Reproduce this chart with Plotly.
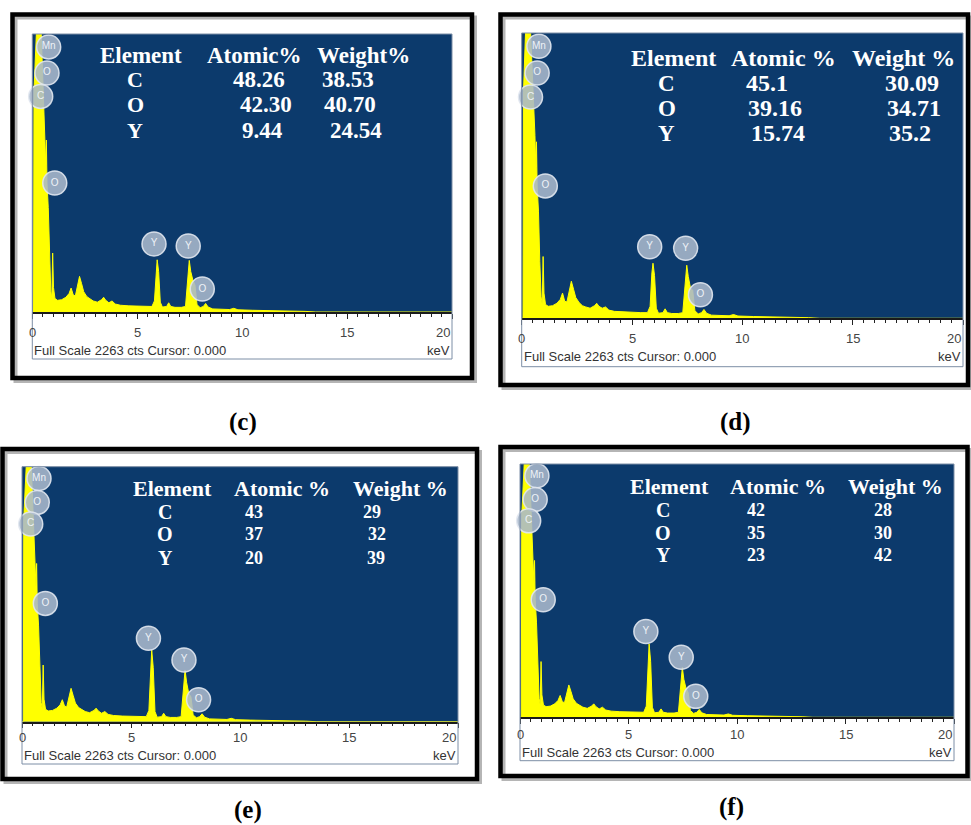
import plotly.graph_objects as go

W, H = 971, 825

# ---------------- data ----------------
energy_kev = [0.00, 0.06, 0.08, 0.12, 0.18, 0.26, 0.30, 0.36, 0.42, 0.48,
              0.54, 0.60, 0.64, 0.67, 0.70, 0.76, 0.82, 0.88, 0.93, 0.97,
              1.01, 1.08, 1.20, 1.40, 1.60, 1.75, 1.85, 1.95, 2.05, 2.15,
              2.25, 2.35, 2.45, 2.60, 2.75, 2.90, 3.10, 3.30, 3.40, 3.50,
              3.65, 3.80, 3.95, 4.20, 4.60, 5.00, 5.40, 5.70, 5.82, 5.90,
              5.95, 6.02, 6.10, 6.20, 6.40, 6.50, 6.60, 6.80, 7.10, 7.30,
              7.40, 7.48, 7.55, 7.65, 7.75, 7.85, 8.00, 8.15, 8.26, 8.38,
              8.60, 9.00, 9.40, 9.60, 9.80, 10.50, 11.50, 12.50, 13.00, 13.50,
              20.00]

counts_c = [0, 0, 1800, 2100, 2500, 2700, 2700, 2450, 2300, 2000,
            1750, 1450, 1200, 1400, 1050, 850, 450, 170, 110, 480,
            200, 110, 95, 100, 120, 150, 195, 140, 130, 210,
            290, 230, 165, 125, 105, 90, 80, 100, 120, 95,
            75, 90, 65, 55, 50, 48, 45, 45, 90, 350,
            425, 330, 80, 40, 45, 75, 45, 38, 38, 45,
            250, 420, 330, 260, 220, 60, 35, 45, 70, 40,
            25, 22, 20, 30, 18, 14, 12, 10, 5, 0,
            0]

counts_d = [0, 0, 1800, 2100, 2500, 2700, 2700, 2450, 2300, 2000,
            1750, 1450, 1200, 1400, 1050, 850, 450, 170, 110, 490,
            200, 110, 95, 100, 120, 150, 200, 135, 130, 215,
            294, 230, 165, 125, 100, 90, 80, 100, 119, 95,
            80, 90, 65, 55, 50, 48, 45, 45, 95, 360,
            437, 340, 80, 40, 45, 75, 45, 38, 38, 45,
            250, 421, 330, 240, 222, 60, 35, 45, 70, 40,
            25, 22, 20, 30, 18, 14, 12, 10, 5, 0,
            0]

counts_e = [0, 0, 1800, 2100, 2500, 2700, 2700, 2450, 2300, 2000,
            1750, 1450, 1200, 1404, 1050, 850, 450, 170, 110, 503,
            200, 110, 95, 100, 120, 150, 195, 140, 130, 210,
            296, 230, 165, 125, 105, 90, 80, 100, 120, 95,
            75, 90, 65, 55, 50, 48, 45, 45, 100, 520,
            636, 480, 90, 40, 45, 75, 45, 38, 38, 45,
            270, 459, 350, 250, 220, 60, 35, 45, 70, 40,
            25, 22, 20, 30, 18, 14, 12, 10, 5, 0,
            0]

counts_f = [0, 0, 1800, 2100, 2500, 2700, 2700, 2450, 2300, 2000,
            1750, 1450, 1200, 1401, 1050, 850, 450, 170, 110, 498,
            200, 110, 95, 100, 120, 150, 195, 140, 130, 210,
            289, 230, 165, 125, 105, 90, 80, 100, 120, 95,
            75, 90, 65, 55, 50, 48, 45, 45, 100, 540,
            656, 500, 90, 40, 45, 75, 45, 38, 38, 45,
            260, 447, 340, 260, 220, 60, 35, 45, 70, 40,
            25, 22, 20, 30, 18, 14, 12, 10, 5, 0,
            0]

full_scale = 2263

peak_labels = ["Mn", "O", "C", "O", "Y", "Y", "O"]
peak_label_kev = [0.78, 0.70, 0.40, 1.07, 5.80, 7.43, 8.10]
peak_label_cts_c = [2158, 1946, 1755, 1050, 554, 537, 187]
peak_label_cts_d = [2158, 1946, 1755, 1050, 568, 556, 187]
peak_label_cts_e = [2158, 1946, 1755, 1050, 740, 548, 195]
peak_label_cts_f = [2158, 1946, 1755, 1050, 766, 537, 187]

elements = ["C", "O", "Y"]
atomic_c = ["48.26", "42.30", "9.44"]
weight_c = ["38.53", "40.70", "24.54"]
atomic_d = ["45.1", "39.16", "15.74"]
weight_d = ["30.09", "34.71", "35.2"]
atomic_e = ["43", "37", "20"]
weight_e = ["29", "32", "39"]
atomic_f = ["42", "35", "23"]
weight_f = ["28", "30", "42"]

headers_c = ["Element", "Atomic%", "Weight%"]
headers_def = ["Element", "Atomic %", "Weight %"]

tick_vals = [0, 5, 10, 15, 20]
tick_labels = ["0", "5", "10", "15", "20"]

# ---------------- layout geometry (pixels) ----------------
panels = [
    dict(name="(c)", counts=counts_c, lab=peak_label_cts_c, headers=headers_c,
         atomic=atomic_c, weight=weight_c,
         frame=(12.5, 14.5, 472, 378), blue=(32.3, 34, 452, 312), strip=359,
         tick_off=20, foot_off=38, caption=(243, 422),
         hy=56, hx=[141, 254.7, 363], ry=[80, 105, 130], ex=135,
         ax=[259, 266, 262], wx=[348, 350, 356], hfs=23, efs=22, vfs=23),
    dict(name="(d)", counts=counts_d, lab=peak_label_cts_d, headers=headers_def,
         atomic=atomic_d, weight=weight_d,
         frame=(500.5, 14.5, 968, 385), blue=(521.7, 33, 963, 318.3), strip=366.7,
         tick_off=20, foot_off=38, caption=(735, 422),
         hy=58.3, hx=[673, 783.3, 903], ry=[83.3, 108.3, 133.3], ex=666.7,
         ax=[766.7, 775, 778], wx=[911.7, 914, 910], hfs=24, efs=23, vfs=24),
    dict(name="(e)", counts=counts_e, lab=peak_label_cts_e, headers=headers_def,
         atomic=atomic_e, weight=weight_e,
         frame=(2.5, 449, 477, 779), blue=(22, 466.7, 458, 721.7), strip=764,
         tick_off=16, foot_off=34, caption=(248, 810),
         hy=488.3, hx=[172.5, 281.7, 400], ry=[511.7, 534, 557.7], ex=165,
         ax=[254, 254, 254], wx=[371.7, 376.7, 375.7], hfs=22, efs=20, vfs=18),
    dict(name="(f)", counts=counts_f, lab=peak_label_cts_f, headers=headers_def,
         atomic=atomic_f, weight=weight_f,
         frame=(500.5, 447, 967.5, 776), blue=(520, 464, 954, 717.3), strip=760.7,
         tick_off=17, foot_off=35, caption=(731, 807),
         hy=486.7, hx=[669.7, 778, 895], ry=[510, 532.7, 555], ex=663.3,
         ax=[755.7, 755.7, 755.7], wx=[883.3, 883.3, 883.3], hfs=22, efs=20, vfs=18),
]


def px(x):
    return x / W


def py(y):
    return 1 - y / H


BLUE = "#0c3a6c"
YELLOW = "#ffff00"
SERIF = "Liberation Serif, Times New Roman, serif"
SANS = "Liberation Sans, Arial, sans-serif"

fig = go.Figure()
shapes = []
annotations = []
layout_axes = {}

for i, p in enumerate(panels, start=1):
    xa = "x" if i == 1 else f"x{i}"
    ya = "y" if i == 1 else f"y{i}"
    xkey = "xaxis" if i == 1 else f"xaxis{i}"
    ykey = "yaxis" if i == 1 else f"yaxis{i}"
    bx0, by0, bx1, by1 = p["blue"]

    layout_axes[xkey] = dict(
        domain=[px(bx0), px(bx1)], range=[0, 20], anchor=ya,
        showline=True, linecolor="#1a1a1a", linewidth=1.5,
        ticks="outside", tick0=0, dtick=5, ticklen=5, tickwidth=1.3,
        tickcolor="#222222", showticklabels=False, showgrid=False,
        zeroline=False, fixedrange=True,
        minor=dict(ticks="outside", tick0=0, dtick=0.5, ticklen=3,
                   tickwidth=1.2, tickcolor="#222222", showgrid=False),
    )
    layout_axes[ykey] = dict(
        domain=[py(by1), py(by0)], range=[0, full_scale], anchor=xa,
        visible=False, fixedrange=True,
    )

    # spectrum
    fig.add_trace(go.Scatter(
        x=energy_kev, y=p["counts"], xaxis=xa, yaxis=ya, mode="lines",
        line=dict(color=YELLOW, width=1), fill="tozeroy", fillcolor=YELLOW,
        showlegend=False, hoverinfo="skip",
    ))
    # peak identification markers
    fig.add_trace(go.Scatter(
        x=peak_label_kev, y=p["lab"], xaxis=xa, yaxis=ya,
        mode="markers+text", text=peak_labels, textposition="middle center",
        textfont=dict(size=10, color="#eef2f7", family=SANS),
        marker=dict(size=24, color="rgba(170,184,204,0.88)",
                    line=dict(width=1.5, color="rgba(225,231,240,0.9)")),
        cliponaxis=False, showlegend=False, hoverinfo="skip",
    ))

    # frame shadow + frame
    fx0, fy0, fx1, fy1 = p["frame"]
    shapes.append(dict(type="rect", xref="paper", yref="paper",
                       x0=px(fx0 + 3), x1=px(fx1 + 3), y0=py(fy1 + 3), y1=py(fy0 + 3),
                       line=dict(color="rgba(120,120,120,0.55)", width=4), layer="below"))
    shapes.append(dict(type="rect", xref="paper", yref="paper",
                       x0=px(fx0), x1=px(fx1), y0=py(fy1), y1=py(fy0),
                       line=dict(color="#000000", width=4.5), layer="above"))
    # plot box (blue + axis strip)
    shapes.append(dict(type="rect", xref="paper", yref="paper",
                       x0=px(bx0), x1=px(bx1), y0=py(p["strip"]), y1=py(by0),
                       line=dict(color="#7d8ea6", width=1), layer="above"))

    # tick labels
    for v, t in zip(tick_vals, tick_labels):
        annotations.append(dict(
            x=v, xref=xa, y=0, yref=f"{ya} domain", text=t, showarrow=False,
            xanchor="right" if v == 20 else "center", yanchor="middle",
            yshift=-p["tick_off"], font=dict(family=SANS, size=13, color="#454545"),
        ))
    # footer
    annotations.append(dict(
        x=0, xref=f"{xa} domain", y=0, yref=f"{ya} domain",
        text="Full Scale 2263 cts Cursor: 0.000", showarrow=False,
        xanchor="left", yanchor="middle", yshift=-p["foot_off"],
        font=dict(family=SANS, size=13, color="#333333"),
    ))
    annotations.append(dict(
        x=1, xref=f"{xa} domain", y=0, yref=f"{ya} domain",
        text="keV", showarrow=False, xanchor="right", yanchor="middle",
        yshift=-p["foot_off"], font=dict(family=SANS, size=13, color="#333333"),
    ))

    # composition table
    for hx, h in zip(p["hx"], p["headers"]):
        annotations.append(dict(
            x=px(hx), y=py(p["hy"]), xref="paper", yref="paper", text=f"<b>{h}</b>",
            showarrow=False, xanchor="center", yanchor="middle",
            font=dict(family=SERIF, size=p["hfs"], color="white"),
        ))
    for k, el in enumerate(elements):
        annotations.append(dict(
            x=px(p["ex"]), y=py(p["ry"][k]), xref="paper", yref="paper",
            text=f"<b>{el}</b>", showarrow=False, xanchor="center", yanchor="middle",
            font=dict(family=SERIF, size=p["efs"], color="white"),
        ))
        annotations.append(dict(
            x=px(p["ax"][k]), y=py(p["ry"][k]), xref="paper", yref="paper",
            text=f"<b>{p['atomic'][k]}</b>", showarrow=False, xanchor="center",
            yanchor="middle", font=dict(family=SERIF, size=p["vfs"], color="white"),
        ))
        annotations.append(dict(
            x=px(p["wx"][k]), y=py(p["ry"][k]), xref="paper", yref="paper",
            text=f"<b>{p['weight'][k]}</b>", showarrow=False, xanchor="center",
            yanchor="middle", font=dict(family=SERIF, size=p["vfs"], color="white"),
        ))

    # caption
    cx, cy = p["caption"]
    annotations.append(dict(
        x=px(cx), y=py(cy), xref="paper", yref="paper", text=f"<b>{p['name']}</b>",
        showarrow=False, xanchor="center", yanchor="middle",
        font=dict(family=SERIF, size=25, color="black"),
    ))

fig.update_layout(
    width=W, height=H, autosize=False,
    margin=dict(l=0, r=0, t=0, b=0),
    paper_bgcolor="white", plot_bgcolor=BLUE,
    showlegend=False, shapes=shapes, annotations=annotations,
    **layout_axes,
)

fig.write_html("out.html")
